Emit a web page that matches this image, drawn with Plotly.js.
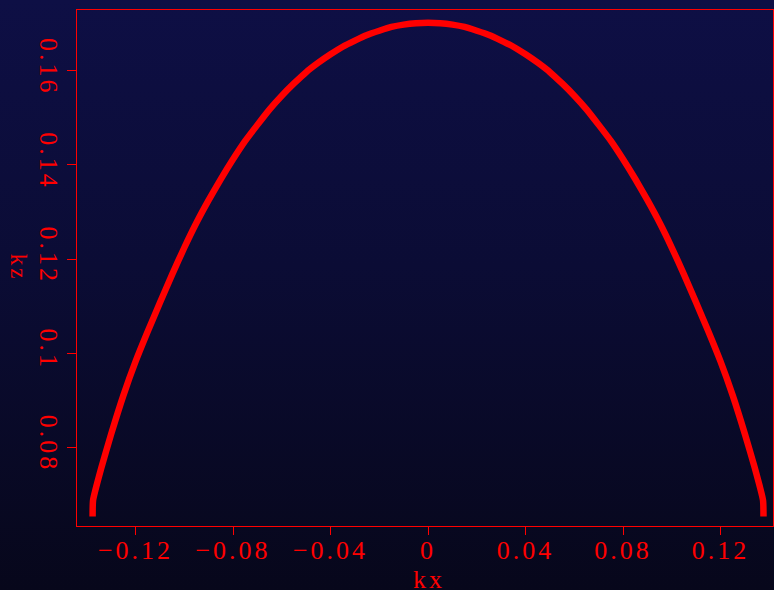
<!DOCTYPE html>
<html><head><meta charset="utf-8">
<script src="https://cdn.plot.ly/plotly-3.0.1.min.js"></script>
<style>
html,body{margin:0;padding:0;width:774px;height:590px;overflow:hidden;background:linear-gradient(to bottom,#0e0f45 0%,#0b0c35 45%,#07071b 100%);}
#chart{width:774px;height:590px;}
.xtick text,.ytick text,.annotation-text{letter-spacing:3px;}
</style></head><body><div id="chart"></div>
<script>
const kx = [-0.1376,-0.1374,-0.134,-0.13,-0.125,-0.12,-0.115,-0.11,-0.105,-0.1,-0.095,-0.09,-0.085,-0.08,-0.075,-0.07,-0.065,-0.06,-0.055,-0.05,-0.045,-0.04,-0.035,-0.03,-0.025,-0.02,-0.015,-0.01,-0.005,0,
  0.005,0.01,0.015,0.02,0.025,0.03,0.035,0.04,0.045,0.05,0.055,0.06,0.065,0.07,0.075,0.08,0.085,0.09,0.095,0.1,0.105,0.11,0.115,0.12,0.125,0.13,0.134,0.1374,0.1376];
const kz = [0.0653,0.0688,0.0757,0.0828,0.0910,0.0982,0.1046,0.1107,0.1167,0.1224,0.1277,0.1325,0.1370,0.1412,0.1451,0.1485,0.1518,0.1547,0.1573,0.1597,0.1617,0.1635,0.1651,0.1664,0.1676,0.1685,0.1693,0.1698,0.1701,0.1702,
  0.1701,0.1698,0.1693,0.1685,0.1676,0.1664,0.1651,0.1635,0.1617,0.1597,0.1573,0.1547,0.1518,0.1485,0.1451,0.1412,0.1370,0.1325,0.1277,0.1224,0.1167,0.1107,0.1046,0.0982,0.0910,0.0828,0.0757,0.0688,0.0653];
const xTickVals = [-0.12,-0.08,-0.04,0,0.04,0.08,0.12];
const xTickText = ["\u22120.12","\u22120.08","\u22120.04","0","0.04","0.08","0.12"];
const yTickVals = [0.08,0.1,0.12,0.14,0.16];
const yTickText = ["0.08","0.1","0.12","0.14","0.16"];
const xLabel = "kx";
const yLabel = "kz";

const RED = "#ff0000";
const FONT = "Liberation Serif, Times New Roman, serif";

const trace = {
  x: kx, y: kz, type: "scatter", mode: "lines",
  line: {color: RED, width: 6.5, shape: "spline", smoothing: 0.5},
  hoverinfo: "skip"
};

const axisCommon = {
  showline: true, linecolor: RED, linewidth: 1, mirror: true,
  ticks: "outside", tickcolor: RED, tickwidth: 1,
  showgrid: false, zeroline: false,
  tickfont: {family: FONT, size: 26, color: RED},
  tickmode: "array"
};

const layout = {
  width: 774, height: 590,
  margin: {l: 77, r: 1, t: 10, b: 64, pad: 0},
  paper_bgcolor: "rgba(0,0,0,0)",
  plot_bgcolor: "rgba(0,0,0,0)",
  showlegend: false,
  xaxis: Object.assign({}, axisCommon, {
    range: [-0.144, 0.1415], ticklen: 8, ticklabelstandoff: -7,
    tickvals: xTickVals, ticktext: xTickText
  }),
  yaxis: Object.assign({}, axisCommon, {
    range: [0.0633, 0.1729], ticklen: 9, tickangle: 90, ticklabelstandoff: -4,
    tickvals: yTickVals, ticktext: yTickText
  }),
  annotations: [
    {text: xLabel, xref: "paper", yref: "paper", x: 0.506, y: -0.104,
     xanchor: "center", yanchor: "middle", showarrow: false,
     font: {family: FONT, size: 26, color: RED}},
    {text: yLabel, xref: "paper", yref: "paper", x: -0.083, y: 0.5,
     xanchor: "center", yanchor: "middle", showarrow: false, textangle: 90,
     font: {family: FONT, size: 23, color: RED}}
  ]
};

Plotly.newPlot("chart", [trace], layout, {displayModeBar: false, staticPlot: true});
</script></body></html>
